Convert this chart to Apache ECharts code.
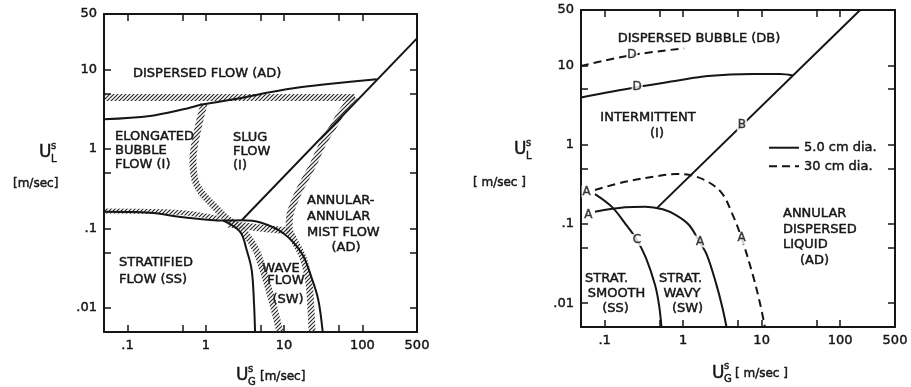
<!DOCTYPE html>
<html>
<head>
<meta charset="utf-8">
<script src="https://cdn.jsdelivr.net/npm/echarts@6/dist/echarts.min.js"></script>
<style>
  html, body { margin: 0; padding: 0; background: #fff; }
  #chart { width: 911px; height: 387px; }
</style>
</head>
<body>
<div id="chart"></div>
<script>
// Superficial velocities in m/s: [U_G^s, U_L^s]

// ---- Left panel: regime boundaries with hatched transition zones ----
const dispersedBoundary = [[0.05, 2.37], [0.194, 2.61], [0.515, 3.16], [0.93, 3.66], [2.5, 4.3],
  [6.6, 5.2], [16, 6.0], [42.6, 6.7], [153, 7.55]];
const annularBoundary = [[2.9, 0.128], [500, 24.7]];
const stratifiedBoundary = [[0.05, 0.163], [0.194, 0.158], [0.515, 0.139], [1.67, 0.126], [2.9, 0.127],
  [5.0, 0.119], [9.8, 0.0873], [16.8, 0.0489], [22.6, 0.0237], [27.4, 0.01265], [31.2, 0.005]];
const waveBoundary = [[1.67, 0.126], [2.74, 0.0914], [3.33, 0.0537], [3.86, 0.0301], [4.13, 0.0115], [4.26, 0.005]];

const zoneDispersed = [[0.05, 4.45], [80, 4.45]];
const zoneAnnular = [[80, 4.6], [56.6, 3.1], [42.3, 1.9], [31.5, 1.19], [23.4, 0.631], [17.5, 0.374],
  [13.8, 0.229], [11.9, 0.148], [11.6, 0.1016], [13.0, 0.076], [17.5, 0.0427], [20.8, 0.0207],
  [22.1, 0.00946], [22.8, 0.005]];
const zoneSlugWave = [[0.948, 3.69], [0.771, 1.59], [0.685, 0.729], [0.728, 0.408], [0.869, 0.288],
  [1.236, 0.198], [1.81, 0.136], [2.43, 0.111], [3.17, 0.088], [4.38, 0.0537], [5.38, 0.0301],
  [6.81, 0.0138], [8.87, 0.005]];
const zoneStratified = [[0.05, 0.166], [0.194, 0.164], [0.628, 0.155], [1.52, 0.133]];
const zoneJunction = [[1.92, 0.114], [4.93, 0.1016], [11.9, 0.093]];

// ---- Right panel: transition curves for 5.0 cm and 30 cm pipes ----
const curveD5 = [[0.05, 3.93], [0.25, 5.29], [0.787, 6.35], [2.07, 7.35], [7.76, 7.79], [17.1, 7.79], [25.1, 7.46]];
const curveD30 = [[0.05, 9.82], [0.223, 13.5], [1.03, 16.4]];
const curveB5 = [[0.46, 0.157], [180, 50]];
const curveA5 = [[0.0753, 0.1426], [0.182, 0.162], [0.33, 0.165], [0.55, 0.153], [0.811, 0.129],
  [1.19, 0.0968], [1.59, 0.0608], [2.01, 0.0405], [2.62, 0.0179], [3.13, 0.0092], [3.57, 0.005]];
const curveC5 = [[0.0753, 0.238], [0.123, 0.165], [0.182, 0.1016], [0.258, 0.0627], [0.336, 0.0372],
  [0.439, 0.0169], [0.493, 0.0095], [0.53, 0.005]];
const curveA30 = [[0.0753, 0.268], [0.182, 0.34], [0.479, 0.402], [0.811, 0.426], [1.22, 0.414],
  [2.07, 0.34], [3.13, 0.243], [4.2, 0.136], [5.57, 0.0658], [7.83, 0.0216], [9.53, 0.00995], [11.0, 0.005]];
const curveTags = [[0.223, 13.5, 'D'], [0.26, 5.3, 'D'], [5.62, 1.77, 'B'], [0.059, 0.255, 'A'],
  [0.062, 0.129, 'A'], [0.258, 0.0627, 'C'], [1.64, 0.06, 'A'], [5.57, 0.0658, 'A']];

// ---- Axis ticks and labels ----
const xTicks = [0.1, 0.5, 1, 5, 10, 50, 100];
const xLabelValues = [0.1, 1, 10, 100, 500];
const xLabelTexts = ['.1', '1', '10', '100', '500'];
const yTicks = [0.01, 0.05, 0.1, 0.5, 1, 5, 10];
const yLabelValues = [0.01, 0.1, 1, 10, 50];
const yLabelTexts = ['.01', '.1', '1', '10', '50'];

const INK = '#151515';
const FONT = '"DejaVu Sans", sans-serif';
const TEXT_WEIGHT = 0.45; // thin outline that thickens the lettering a little

// diagonal "////" hatching used for the transition zones
function hatchPattern() {
  const c = document.createElement('canvas');
  c.width = 4; c.height = 4;
  const g = c.getContext('2d');
  g.strokeStyle = '#2a2a2a';
  g.lineWidth = 1.2;
  [[-1, 5, 5, -1], [-1, 1, 1, -1], [3, 5, 5, 3]].forEach(([a, b, d, e]) => {
    g.beginPath(); g.moveTo(a, b); g.lineTo(d, e); g.stroke();
  });
  return { image: c, repeat: 'repeat' };
}
const HATCH = hatchPattern();

function labelFor(values, texts) {
  return v => {
    const i = values.findIndex(t => Math.abs(Math.log10(t) - Math.log10(v)) < 1e-6);
    return i < 0 ? '' : texts[i];
  };
}

function axisLabel(show, values, texts) {
  return {
    show, customValues: values, formatter: labelFor(values, texts),
    margin: 7, color: INK, fontSize: 13, fontFamily: FONT,
    textBorderColor: INK, textBorderWidth: TEXT_WEIGHT
  };
}
function xAxis(gridIndex, position, withLabels) {
  return {
    type: 'log', logBase: 10, gridIndex, position, min: 0.05, max: 500,
    axisLine: { show: true, onZero: false, lineStyle: { color: INK, width: 2 } },
    axisTick: { show: true, inside: true, length: 7, customValues: xTicks, lineStyle: { color: INK, width: 1.5 } },
    axisLabel: axisLabel(withLabels, xLabelValues, xLabelTexts),
    splitLine: { show: false }
  };
}
function yAxis(gridIndex, position, withLabels) {
  return {
    type: 'log', logBase: 10, gridIndex, position, min: 0.005, max: 50,
    axisLine: { show: true, onZero: false, lineStyle: { color: INK, width: 2 } },
    axisTick: { show: true, inside: true, length: 7, customValues: yTicks, lineStyle: { color: INK, width: 1.5 } },
    axisLabel: axisLabel(withLabels, yLabelValues, yLabelTexts),
    splitLine: { show: false }
  };
}

function curve(name, data, panel, dashed) {
  return {
    type: 'line', name, data, xAxisIndex: panel * 2, yAxisIndex: panel * 2,
    symbol: 'none', smooth: 0.35, silent: true, z: 3,
    itemStyle: { color: INK },
    lineStyle: { color: INK, width: 2, type: dashed ? [8, 5] : 'solid', cap: 'butt' }
  };
}
function zone(data, width) {
  return {
    type: 'line', name: 'transition zone', data, xAxisIndex: 0, yAxisIndex: 0,
    symbol: 'none', smooth: 0.35, silent: true, z: 2,
    lineStyle: { color: HATCH, width: width || 7, cap: 'butt' }
  };
}

function text(x, y, s, align, size) {
  return {
    type: 'text', x, y, silent: true,
    style: {
      text: s, fill: INK, stroke: INK, lineWidth: TEXT_WEIGHT,
      font: (size || 13) + 'px ' + FONT, align: align || 'left', verticalAlign: 'middle'
    }
  };
}
function velocitySymbol(x, y, sub) {
  return [text(x, y, 'U', 'left', 17), text(x + 12, y - 7, 's', 'left', 10), text(x + 12, y + 6, sub, 'left', 10)];
}

const graphics = [
  // left panel regions
  text(133, 74, 'DISPERSED FLOW (AD)'),
  text(115, 137, 'ELONGATED'), text(115, 151, 'BUBBLE'), text(115, 164.5, 'FLOW (I)'),
  text(233, 138, 'SLUG'), text(233, 152, 'FLOW'), text(233, 166, '(I)'),
  text(307, 201, 'ANNULAR-'), text(307, 216.5, 'ANNULAR'), text(307, 232.5, 'MIST FLOW'), text(346, 248, '(AD)', 'center'),
  text(119, 262.5, 'STRATIFIED'), text(119, 279.5, 'FLOW (SS)'),
  text(281, 269, 'WAVE', 'center'), text(286, 281, 'FLOW', 'center'), text(288, 300, '(SW)', 'center'),
  // right panel regions
  text(699, 39, 'DISPERSED BUBBLE (DB)', 'center'),
  text(648, 118, 'INTERMITTENT', 'center'), text(657, 133.5, '(I)', 'center'),
  text(783, 213.5, 'ANNULAR'), text(783, 229.5, 'DISPERSED'), text(783, 245, 'LIQUID'), text(800, 260.5, '(AD)'),
  text(606.5, 278.5, 'STRAT.', 'center'), text(616.5, 293.5, 'SMOOTH', 'center'), text(615.5, 308.5, '(SS)', 'center'),
  text(680.5, 278.5, 'STRAT.', 'center'), text(682, 293.5, 'WAVY', 'center'), text(687.5, 308.5, '(SW)', 'center'),
  // axis titles
  ...velocitySymbol(39, 153, 'L'), text(13, 184, '[m/sec]', 'left', 12),
  ...velocitySymbol(514, 150, 'L'), text(473, 183, '[ m/sec ]', 'left', 12),
  ...velocitySymbol(236, 376, 'G'), text(260, 377, '[m/sec]', 'left', 12),
  ...velocitySymbol(712, 373.5, 'G'), text(735, 374, '[ m/sec ]', 'left', 12)
];

const option = {
  animation: false,
  backgroundColor: '#fff',
  textStyle: { fontFamily: FONT },
  grid: [
    { left: 104, top: 14, width: 313, height: 318 },
    { left: 581, top: 10, width: 314, height: 317 }
  ],
  xAxis: [xAxis(0, 'bottom', true), xAxis(0, 'top', false), xAxis(1, 'bottom', true), xAxis(1, 'top', false)],
  yAxis: [yAxis(0, 'left', true), yAxis(0, 'right', false), yAxis(1, 'left', true), yAxis(1, 'right', false)],
  legend: {
    data: ['5.0 cm dia.', '30 cm dia.'], orient: 'vertical', left: 763, top: 136,
    itemWidth: 30, itemHeight: 14, itemGap: 5, selectedMode: false,
    itemStyle: { opacity: 0 },
    textStyle: { color: INK, fontSize: 13, fontFamily: FONT, textBorderColor: INK, textBorderWidth: TEXT_WEIGHT }
  },
  series: [
    zone(zoneDispersed), zone(zoneAnnular), zone(zoneSlugWave), zone(zoneJunction), zone(zoneStratified, 5),
    curve('boundary', dispersedBoundary, 0), curve('boundary', annularBoundary, 0),
    curve('boundary', stratifiedBoundary, 0), curve('boundary', waveBoundary, 0),
    curve('5.0 cm dia.', curveD5, 1), curve('5.0 cm dia.', curveB5, 1),
    curve('5.0 cm dia.', curveA5, 1), curve('5.0 cm dia.', curveC5, 1),
    curve('30 cm dia.', curveD30, 1, true), curve('30 cm dia.', curveA30, 1, true),
    {
      type: 'scatter', name: 'curve tags', xAxisIndex: 2, yAxisIndex: 2, silent: true, z: 5,
      data: curveTags, symbolSize: 0,
      label: {
        show: true, position: 'inside', formatter: p => p.value[2], color: INK, fontSize: 12,
        fontFamily: FONT, backgroundColor: '#fff', padding: [0, 1],
        textBorderColor: INK, textBorderWidth: TEXT_WEIGHT
      }
    }
  ],
  graphic: { elements: graphics }
};

const chart = echarts.init(document.getElementById('chart'), null, { renderer: 'canvas' });
chart.setOption(option);
</script>
</body>
</html>
